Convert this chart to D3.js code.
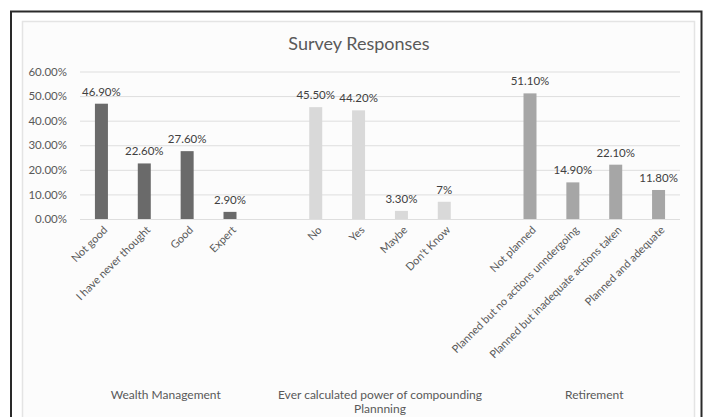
<!DOCTYPE html>
<html><head><meta charset="utf-8">
<script src="https://cdn.jsdelivr.net/npm/d3@7/dist/d3.min.js"></script>
<style>
html,body{margin:0;padding:0;background:#fff;}
svg{display:block;font-family:Lato,"Open Sans",sans-serif;}
</style></head><body>
<svg id="chart" width="705" height="417"></svg>
<script>
// Data
const categories = ["Not good","I have never thought","Good","Expert","",
  "No","Yes","Maybe","Don't Know","",
  "Not planned","Planned but no actions unndergoing","Planned but inadequate actions taken","Planned and adequate"];
const values = [46.9,22.6,27.6,2.9,null,45.5,44.2,3.3,7,null,51.1,14.9,22.1,11.8];
const valueLabels = ["46.90%","22.60%","27.60%","2.90%","","45.50%","44.20%","3.30%","7%","","51.10%","14.90%","22.10%","11.80%"];
const groupOf = [0,0,0,0,-1,1,1,1,1,-1,2,2,2,2];
const groups = ["Wealth Management","Ever calculated power of compounding\nPlannning","Retirement"];
const groupColors = ["#6a6a6a","#d9d9d9","#a6a6a6"];
const yTicks = [0,10,20,30,40,50,60];
const yTickLabels = ["0.00%","10.00%","20.00%","30.00%","40.00%","50.00%","60.00%"];
const title = "Survey Responses";

const svg = d3.select("#chart");
// frames
svg.append("rect").attr("x",11).attr("y",11.5).attr("width",690.5).attr("height",420)
  .attr("fill","#ffffff").attr("stroke","#2a2a2a").attr("stroke-width",2);
svg.append("rect").attr("x",22.5).attr("y",21.5).attr("width",672).attr("height",410)
  .attr("fill","#fcfcfc").attr("stroke","#e4e4e4").attr("stroke-width",1.5);

const x = d3.scaleBand().domain(d3.range(categories.length)).range([80,680]).padding(0);
const y = d3.scaleLinear().domain([0,60]).range([219,71.5]);

// gridlines
const yAxis = d3.axisLeft(y).tickValues(yTicks).tickSize(-600).tickFormat((d,i)=>yTickLabels[i]);
const gy = svg.append("g").attr("transform","translate(80,0)").call(yAxis);
gy.select(".domain").remove();
gy.selectAll(".tick line").attr("stroke","#dedede").attr("stroke-width",1);
gy.selectAll(".tick text").attr("x",-13).attr("fill","#595959")
  .style("font-size","11.5px").style("font-family","Lato, sans-serif");

// bars
const bw = 13;
svg.append("g").selectAll("rect").data(values.map((v,i)=>({v,i})).filter(d=>d.v!==null))
  .join("rect")
  .attr("x",d=>x(d.i)+x.bandwidth()/2-bw/2)
  .attr("width",bw)
  .attr("y",d=>y(d.v))
  .attr("height",d=>y(0)-y(d.v))
  .attr("fill",d=>groupColors[groupOf[d.i]]);

// value labels
svg.append("g").selectAll("text").data(values.map((v,i)=>({v,i})).filter(d=>d.v!==null))
  .join("text")
  .attr("x",d=>x(d.i)+x.bandwidth()/2)
  .attr("y",d=>y(d.v)-8)
  .attr("text-anchor","middle")
  .attr("fill","#404040")
  .style("font-size","11.5px")
  .text(d=>valueLabels[d.i]);

// category labels (rotated)
svg.append("g").selectAll("text").data(categories.map((c,i)=>({c,i})).filter(d=>d.c!==""))
  .join("text")
  .attr("transform",d=>`translate(${x(d.i)+x.bandwidth()/2+4},${228}) rotate(-45)`)
  .attr("text-anchor","end")
  .attr("dy","0.35em")
  .attr("fill","#595959")
  .style("font-size","11px")
  .text(d=>d.c);

// group labels
groups.forEach((g,gi)=>{
  const idx = groupOf.map((v,i)=>v===gi?i:-1).filter(i=>i>=0);
  const cx = (x(idx[0]) + x(idx[idx.length-1]) + x.bandwidth())/2;
  const lines = g.split("\n");
  const t = svg.append("text").attr("x",cx).attr("y",399).attr("text-anchor","middle")
    .attr("fill","#595959").style("font-size","12px");
  lines.forEach((ln,li)=>{
    t.append("tspan").attr("x",cx).attr("dy",li===0?0:13.5).text(ln);
  });
});

// title
svg.append("text").attr("x",359).attr("y",50).attr("text-anchor","middle")
  .attr("fill","#595959").style("font-size","18px").text(title);
</script>
</body></html>
